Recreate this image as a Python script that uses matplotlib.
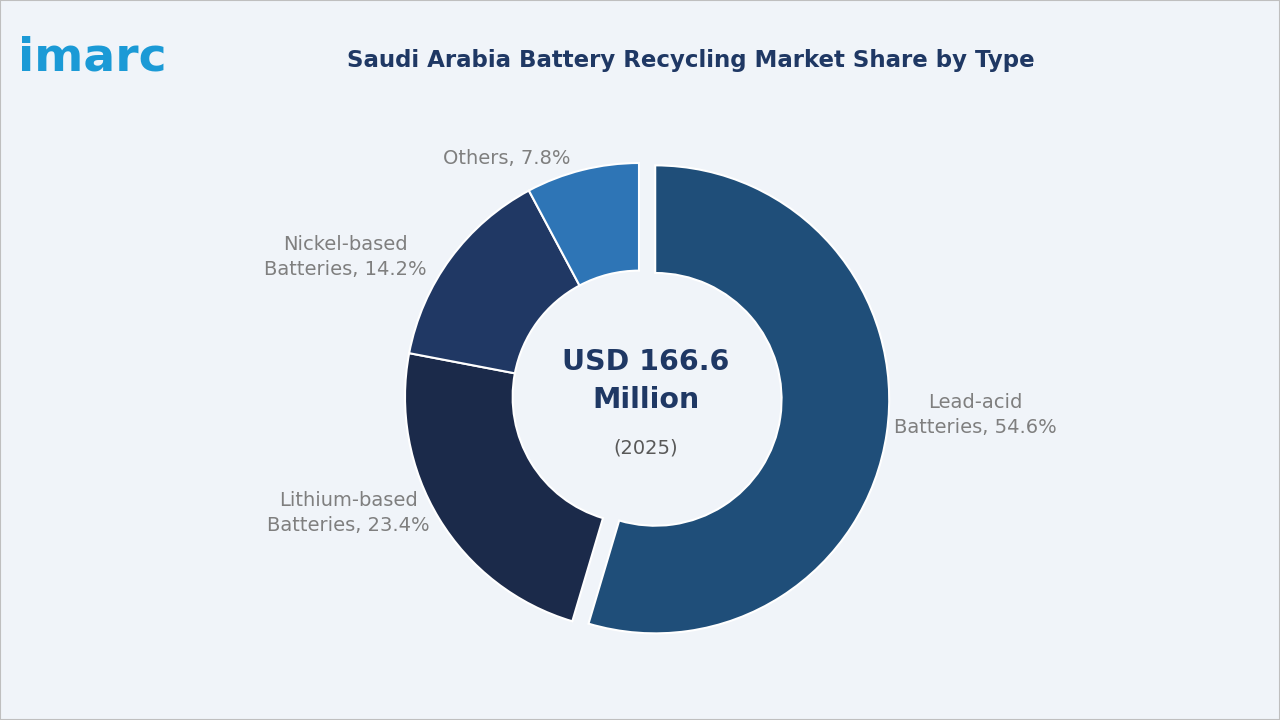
import matplotlib
matplotlib.use("Agg")
import matplotlib.pyplot as plt

categories = ["Lead-acid\nBatteries", "Lithium-based\nBatteries", "Nickel-based\nBatteries", "Others"]
shares = [54.6, 23.4, 14.2, 7.8]
colors = ["#1f4e79", "#1b2a4a", "#203864", "#2e75b6"]
explode = [0.07, 0, 0, 0]

R = 234.0
cx, cy = 639.0, 397.0
fig = plt.figure(figsize=(12.8, 7.2), dpi=100, facecolor="#f0f4f9")
fig.patches.append(plt.Rectangle((0, 0), 1, 1, transform=fig.transFigure, fill=False,
                                 edgecolor="#bfbfbf", linewidth=1.5))
half = 1.3 * R
ax = fig.add_axes([(cx - half) / 1280, (720 - cy - half) / 720, 2 * half / 1280, 2 * half / 720])
ax.set_facecolor("none")
ax.pie(shares, colors=colors, explode=explode, startangle=90, counterclock=False,
       wedgeprops=dict(width=0.46, edgecolor="white", linewidth=1.5), radius=1.0)
ax.set_xlim(-1.3, 1.3); ax.set_ylim(-1.3, 1.3); ax.set_aspect("equal"); ax.axis("off")

def d(px, py):
    return ((px - cx) / R, (cy - py) / R)

label_pos = [d(975, 415), d(348, 513), d(345, 257), d(507, 158)]
for (x, y), c, s in zip(label_pos, categories, shares):
    ax.text(x, y, f"{c}, {s}%", ha="center", va="center", fontsize=14, color="#7f7f7f",
            linespacing=1.45, clip_on=False)

ax.text(*d(646, 381), "USD 166.6\nMillion", ha="center", va="center", fontsize=20.5,
        fontweight="bold", color="#1f3864", linespacing=1.45)
ax.text(*d(646, 448), "(2025)", ha="center", va="center", fontsize=14, color="#595959")

fig.text(0.54, 0.916, "Saudi Arabia Battery Recycling Market Share by Type", ha="center",
         va="center", fontsize=16.5, fontweight="bold", color="#1f3864")
fig.text(0.014, 0.92, "imarc", ha="left", va="center", fontsize=34, fontweight="bold",
         color="#1b9ad6")
fig.savefig("out.png", dpi=100, facecolor=fig.get_facecolor())
